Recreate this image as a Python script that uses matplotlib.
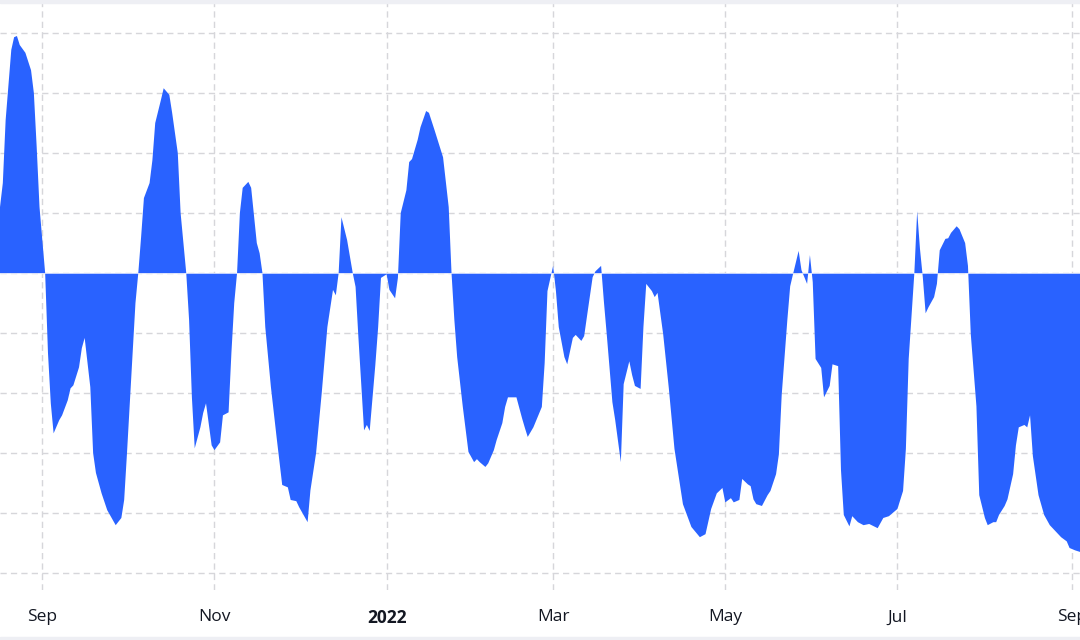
import numpy as np
import pandas as pd
import matplotlib
matplotlib.use("Agg")
import matplotlib.pyplot as plt
from matplotlib.patches import Rectangle

# values (grid step = 10)
dates = [
    "2021-08-17", "2021-08-18", "2021-08-19", "2021-08-21", "2021-08-22", "2021-08-23",
    "2021-08-24", "2021-08-26", "2021-08-28", "2021-08-29", "2021-08-30", "2021-08-31",
    "2021-09-02", "2021-09-03", "2021-09-04", "2021-09-05", "2021-09-07", "2021-09-08",
    "2021-09-10", "2021-09-11", "2021-09-12", "2021-09-14", "2021-09-15", "2021-09-16",
    "2021-09-18", "2021-09-19", "2021-09-20", "2021-09-22", "2021-09-24", "2021-09-27",
    "2021-09-29", "2021-09-30", "2021-10-01", "2021-10-03", "2021-10-04", "2021-10-05",
    "2021-10-06", "2021-10-07", "2021-10-09", "2021-10-10", "2021-10-11", "2021-10-13",
    "2021-10-14", "2021-10-16", "2021-10-17", "2021-10-19", "2021-10-20", "2021-10-22",
    "2021-10-23", "2021-10-24", "2021-10-25", "2021-10-27", "2021-10-28", "2021-10-29",
    "2021-10-31", "2021-11-01", "2021-11-03", "2021-11-04", "2021-11-06", "2021-11-07",
    "2021-11-08", "2021-11-09", "2021-11-10", "2021-11-11", "2021-11-13", "2021-11-14",
    "2021-11-16", "2021-11-17", "2021-11-18", "2021-11-19", "2021-11-21", "2021-11-23",
    "2021-11-25", "2021-11-27", "2021-11-28", "2021-11-30", "2021-12-01", "2021-12-04",
    "2021-12-05", "2021-12-07", "2021-12-09", "2021-12-11", "2021-12-13", "2021-12-14",
    "2021-12-15", "2021-12-16", "2021-12-18", "2021-12-20", "2021-12-21", "2021-12-22",
    "2021-12-24", "2021-12-25", "2021-12-26", "2021-12-28", "2021-12-29", "2021-12-30",
    "2022-01-01", "2022-01-02", "2022-01-04", "2022-01-05", "2022-01-06", "2022-01-08",
    "2022-01-09", "2022-01-10", "2022-01-12", "2022-01-13", "2022-01-15", "2022-01-16",
    "2022-01-18", "2022-01-20", "2022-01-21", "2022-01-23", "2022-01-24", "2022-01-25",
    "2022-01-26", "2022-01-28", "2022-01-30", "2022-02-01", "2022-02-02", "2022-02-03",
    "2022-02-05", "2022-02-06", "2022-02-08", "2022-02-09", "2022-02-11", "2022-02-12",
    "2022-02-13", "2022-02-16", "2022-02-18", "2022-02-19", "2022-02-20", "2022-02-22",
    "2022-02-25", "2022-02-26", "2022-02-27", "2022-03-01", "2022-03-02", "2022-03-03",
    "2022-03-05", "2022-03-06", "2022-03-08", "2022-03-09", "2022-03-11", "2022-03-12",
    "2022-03-13", "2022-03-15", "2022-03-16", "2022-03-18", "2022-03-19", "2022-03-20",
    "2022-03-22", "2022-03-23", "2022-03-25", "2022-03-26", "2022-03-28", "2022-03-29",
    "2022-03-30", "2022-04-01", "2022-04-02", "2022-04-03", "2022-04-05", "2022-04-06",
    "2022-04-07", "2022-04-09", "2022-04-11", "2022-04-13", "2022-04-16", "2022-04-19",
    "2022-04-22", "2022-04-24", "2022-04-26", "2022-04-28", "2022-04-30", "2022-05-01",
    "2022-05-03", "2022-05-04", "2022-05-06", "2022-05-07", "2022-05-09", "2022-05-10",
    "2022-05-11", "2022-05-12", "2022-05-14", "2022-05-16", "2022-05-17", "2022-05-19",
    "2022-05-20", "2022-05-21", "2022-05-23", "2022-05-24", "2022-05-25", "2022-05-27",
    "2022-05-28", "2022-05-30", "2022-05-31", "2022-06-01", "2022-06-02", "2022-06-04",
    "2022-06-05", "2022-06-07", "2022-06-08", "2022-06-10", "2022-06-11", "2022-06-12",
    "2022-06-14", "2022-06-15", "2022-06-17", "2022-06-19", "2022-06-21", "2022-06-24",
    "2022-06-26", "2022-06-28", "2022-07-01", "2022-07-03", "2022-07-04", "2022-07-05",
    "2022-07-07", "2022-07-08", "2022-07-09", "2022-07-10", "2022-07-11", "2022-07-12",
    "2022-07-14", "2022-07-15", "2022-07-16", "2022-07-18", "2022-07-19", "2022-07-20",
    "2022-07-22", "2022-07-23", "2022-07-25", "2022-07-26", "2022-07-27", "2022-07-29",
    "2022-07-30", "2022-08-01", "2022-08-02", "2022-08-04", "2022-08-05", "2022-08-06",
    "2022-08-08", "2022-08-09", "2022-08-11", "2022-08-12", "2022-08-13", "2022-08-15",
    "2022-08-16", "2022-08-17", "2022-08-18", "2022-08-20", "2022-08-22", "2022-08-24",
    "2022-08-26", "2022-08-28", "2022-08-30", "2022-08-31", "2022-09-02", "2022-09-04",
]
values = [
    11.0, 15.0, 25.5, 37.2, 39.3, 39.5,
    38.0, 36.7, 33.8, 30.0, 21.0, 11.0,
    0.0, -13.3, -21.7, -26.7, -24.5, -23.7,
    -21.2, -19.2, -18.7, -15.7, -12.5, -10.8,
    -19.0, -30.0, -33.3, -36.7, -39.5, -42.0,
    -40.8, -37.8, -30.0, -13.3, -5.0, 0.0,
    6.0, 12.5, 15.0, 18.8, 25.0, 28.8,
    30.8, 29.7, 26.7, 20.0, 10.0, 0.0,
    -7.8, -20.7, -29.2, -25.7, -23.3, -21.7,
    -28.7, -29.5, -28.2, -23.7, -23.2, -13.3,
    -5.0, 0.0, 10.0, 14.2, 15.2, 14.2,
    5.0, 3.3, 0.0, -9.0, -19.0, -27.3,
    -35.3, -35.7, -37.8, -38.0, -39.0, -41.5,
    -36.2, -30.0, -20.0, -9.0, -2.8, -3.7,
    0.0, 9.3, 5.5, 0.0, -2.3, -10.7,
    -26.2, -25.3, -26.3, -15.3, -9.0, -0.8,
    -0.2, -2.8, -4.2, -0.8, 10.0, 13.8,
    18.5, 19.0, 22.2, 24.3, 27.0, 26.7,
    23.8, 20.8, 19.3, 11.0, 0.0, -7.8,
    -14.0, -22.3, -29.8, -31.5, -31.0, -31.5,
    -32.3, -31.7, -29.5, -27.8, -25.0, -22.3,
    -20.7, -20.7, -24.2, -25.8, -27.3, -25.7,
    -22.3, -15.0, -3.0, 1.2, -3.0, -9.0,
    -14.0, -15.2, -10.8, -10.3, -11.3, -10.5,
    -7.2, -0.7, 0.3, 1.2, -4.8, -10.2,
    -21.5, -24.5, -31.5, -18.5, -14.7, -17.0,
    -18.8, -19.3, -9.0, -1.8, -3.0, -4.0,
    -3.3, -10.2, -19.2, -29.3, -38.5, -42.3,
    -44.0, -43.5, -39.3, -36.7, -35.8, -38.2,
    -37.5, -38.2, -37.8, -34.3, -35.2, -35.5,
    -37.7, -38.5, -38.8, -37.0, -36.3, -33.5,
    -30.2, -20.3, -7.8, -2.2, -0.2, 3.7,
    0.5, -1.8, 3.0, -1.5, -14.3, -15.8,
    -20.7, -18.8, -15.2, -15.5, -32.8, -40.3,
    -42.2, -40.5, -41.5, -42.0, -41.8, -42.5,
    -40.8, -40.5, -39.3, -36.3, -29.3, -14.3,
    0.0, 10.3, 4.0, -0.7, -6.7, -5.7,
    -4.0, -1.8, 3.8, 5.7, 5.8, 6.7,
    7.8, 7.3, 5.0, 1.2, -10.2, -22.2,
    -37.0, -40.8, -42.0, -41.5, -41.5, -40.3,
    -38.8, -37.7, -33.5, -28.7, -25.7, -25.3,
    -25.7, -23.7, -30.5, -37.0, -40.3, -42.0,
    -43.0, -44.0, -44.7, -45.8, -46.2, -46.5,
]
tick_dates = ["2021-09-01", "2021-11-01", "2022-01-01", "2022-03-01",
              "2022-05-01", "2022-07-01", "2022-09-01"]
tick_labels = ["Sep", "Nov", "2022", "Mar", "May", "Jul", "Sep"]

x = pd.to_datetime(dates)
y = np.array(values)

plt.rcParams['font.family'] = ['Open Sans', 'DejaVu Sans']

fig = plt.figure(figsize=(10.8, 6.4), dpi=100)
ax = fig.add_axes([0, 1 - 590 / 640, 1, (590 - 3) / 640])

blue = "#2962ff"
ax.fill_between(x, y, 0, color=blue, linewidth=0, zorder=3)
ax.axhline(0, color="#dce4ff", lw=0.6, zorder=4)

start = pd.Timestamp("2021-08-17")
ax.set_xlim(start, start + pd.Timedelta(days=382.7))
ax.set_ylim(-52.8, 45)

ax.set_yticks(np.arange(-50, 41, 10))
ax.set_xticks(pd.to_datetime(tick_dates))
ax.set_xticklabels(tick_labels)
ax.xaxis.get_ticklabels()[2].set_fontweight("bold")

ax.grid(True, color="#d6d6da", lw=1, linestyle=(0, (4.5, 3)), zorder=0)
ax.tick_params(axis="x", length=0, pad=14, labelsize=12.5, labelcolor="#131722")
ax.tick_params(axis="y", length=0, labelleft=False)
for s in ax.spines.values():
    s.set_visible(False)

# light strips at the top and bottom edges
fig.patches.append(Rectangle((0, 1 - 3 / 640), 1, 3 / 640, transform=fig.transFigure,
                             color="#eeeff4", zorder=0))
fig.patches.append(Rectangle((0, 0), 1, 3 / 640, transform=fig.transFigure,
                             color="#eeeff4", zorder=0))

fig.savefig("out.png", dpi=100)
